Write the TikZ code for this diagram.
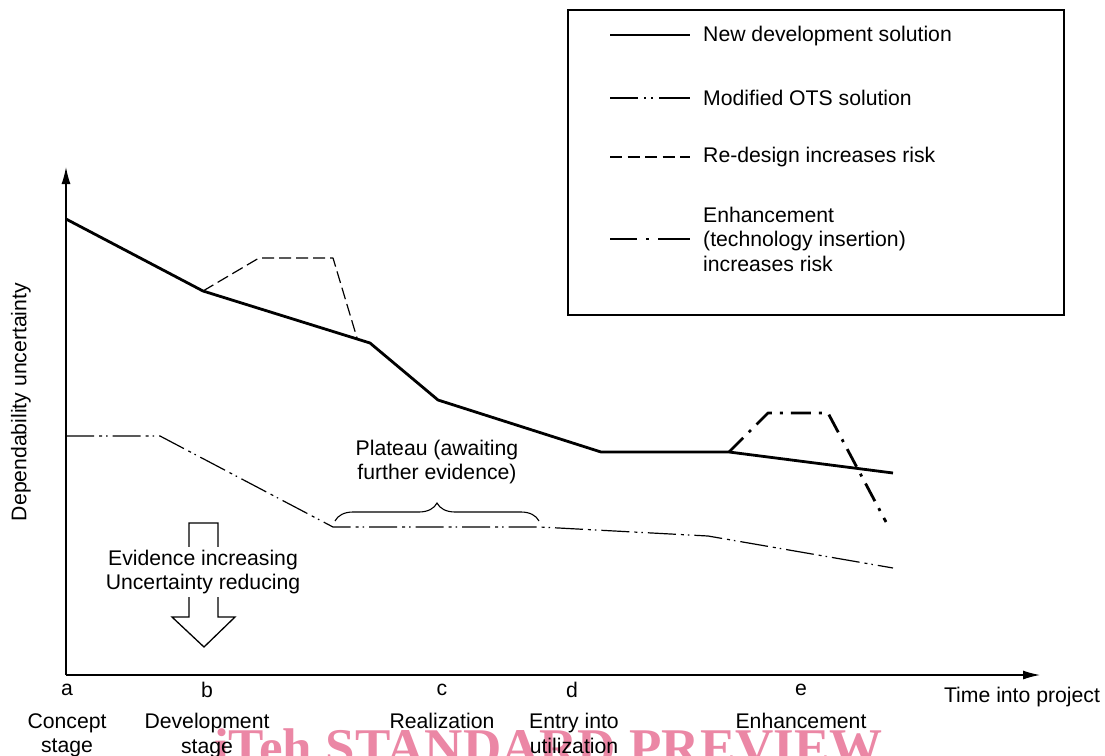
\documentclass[tikz,border=0pt]{standalone}
\usepackage{fontspec}
\setmainfont{Liberation Sans}
\newfontfamily\wmfont{Liberation Serif}
\usetikzlibrary{decorations.pathreplacing,arrows.meta}
\definecolor{wmpink}{RGB}{235,135,165}
\newcommand{\fs}{\fontsize{21.2}{24.5}\selectfont}
\begin{document}
\begin{tikzpicture}[x=1pt,y=-1pt,
  newdev/.style={line width=2.8pt, line join=round},
  ots/.style={line width=1.2pt, line join=round, dash pattern=on 28pt off 5pt on 3pt off 4pt on 1.5pt off 5pt},
  redesign/.style={line width=1.2pt, line join=round, dash pattern=on 12pt off 5pt},
  enh/.style={line width=2.8pt, line join=round, dash pattern=on 20pt off 8pt on 3pt off 8pt},
  axisline/.style={line width=1.3pt, -{Latex[length=17pt,width=9pt]}},
  lbl/.style={font=\fs, inner sep=0pt, align=center},
  legtext/.style={font=\fs, inner sep=0pt, align=left, anchor=west}]
\clip (0,0) rectangle (1105,755);
\fill[white] (0,0) rectangle (1105,755);

% watermark
\node[anchor=base west, text=wmpink, font=\wmfont\bfseries\fontsize{53}{53}\selectfont, inner sep=0pt] (wm) at (214,765) {iTeh STANDARD PREVIEW};

% axes
\coordinate (O) at (66,675);
\coordinate (ytip) at (66,167);
\coordinate (xtip) at (1040,675);
\draw[axisline] (O) -- (ytip);
\draw[axisline] (O) -- (xtip);
\node[lbl, rotate=90] (ylab) at (21,402) {Dependability uncertainty};
\node[lbl] (xlab) at (1022,697) {Time into project};

% new development
\coordinate (n1) at (66,219);
\coordinate (n2) at (203,291);
\coordinate (n3) at (370,343);
\coordinate (n4) at (438,400);
\coordinate (n5) at (601,452);
\coordinate (n6) at (729,452);
\coordinate (n7) at (893,473);
% redesign
\coordinate (r1) at (259,258);
\coordinate (r2) at (333,258);
\coordinate (r3) at (357,338);
% enhancement
\coordinate (e1) at (768,413);
\coordinate (e2) at (828,413);
\coordinate (e3) at (886,522);
% OTS
\coordinate (m1) at (66,436);
\coordinate (m2) at (160,436);
\coordinate (m3) at (333,527);
\coordinate (m4) at (540,527);
\coordinate (m5) at (708,536);
\coordinate (m6) at (893,568);

\draw[redesign] (n2) -- (r1) -- (r2) -- (r3);
\draw[enh] (n6) -- (e1) -- (e2) -- (e3);
\draw[newdev] (n1) -- (n2) -- (n3) -- (n4) -- (n5) -- (n6) -- (n7);
\draw[ots] (m1) -- (m2) -- (m3) -- (m4) -- (m5) -- (m6);

% plateau brace
\coordinate (b1) at (335,521);
\coordinate (b2) at (539,521);
\draw[line width=1.1pt, decorate, decoration={brace, amplitude=18pt}] (b1) -- (b2);
\node[lbl] (plat) at (437,462) {Plateau (awaiting\\further evidence)};

% hollow arrow
\coordinate (h1) at (189,617);
\coordinate (h2) at (189,523);
\coordinate (h3) at (218,523);
\coordinate (h4) at (218,617);
\coordinate (h5) at (235,617);
\coordinate (h6) at (204,647);
\coordinate (h7) at (172,617);
\draw[line width=1.3pt, line join=miter] (h1) -- (h2) -- (h3) -- (h4) -- (h5) -- (h6) -- (h7) -- cycle;
\node[lbl, fill=white, inner xsep=2pt, inner ysep=3pt] (evid) at (203,572) {Evidence increasing\\Uncertainty reducing};

% stage labels
\node[lbl] (la) at (67,690) {a};
\node[lbl] (lb) at (207,690) {b};
\node[lbl] (lc) at (442,690) {c};
\node[lbl] (ld) at (572,690) {d};
\node[lbl] (le) at (801,690) {e};
\node[lbl, anchor=north] (sa) at (67,713) {Concept\\stage};
\node[lbl, anchor=north] (sb) at (207,713) {Development\\stage};
\node[lbl, anchor=north] (sc) at (442,713) {Realization};
\node[lbl, anchor=north] (sd) at (574,713) {Entry into\\utilization};
\node[lbl, anchor=north] (se) at (801,713) {Enhancement};

% legend
\draw[line width=1.2pt] (568,10) rectangle (1064,315);
\coordinate (g1a) at (610,35);  \coordinate (g1b) at (690,35);
\coordinate (g2a) at (610,98);  \coordinate (g2b) at (690,98);
\coordinate (g3a) at (610,157); \coordinate (g3b) at (690,157);
\coordinate (g4a) at (610,239); \coordinate (g4b) at (690,239);
\draw[newdev] (g1a) -- (g1b);
\draw[line width=1.2pt, dash pattern=on 28pt off 6pt on 2pt off 5pt on 2pt off 6pt on 40pt] (g2a) -- (g2b);
\draw[redesign, dash pattern=on 12pt off 5.5pt] (g3a) -- (g3b);
\draw[line width=2.8pt, dash pattern=on 27pt off 9pt on 3pt off 9pt on 40pt] (g4a) -- (g4b);
\node[legtext] (t1) at (703,36) {New development solution};
\node[legtext] (t2) at (703,98) {Modified OTS solution};
\node[legtext] (t3) at (703,157) {Re-design increases risk};
\node[legtext] (t4) at (703,239) {Enhancement\\(technology insertion)\\increases risk};
\end{tikzpicture}
\end{document}
